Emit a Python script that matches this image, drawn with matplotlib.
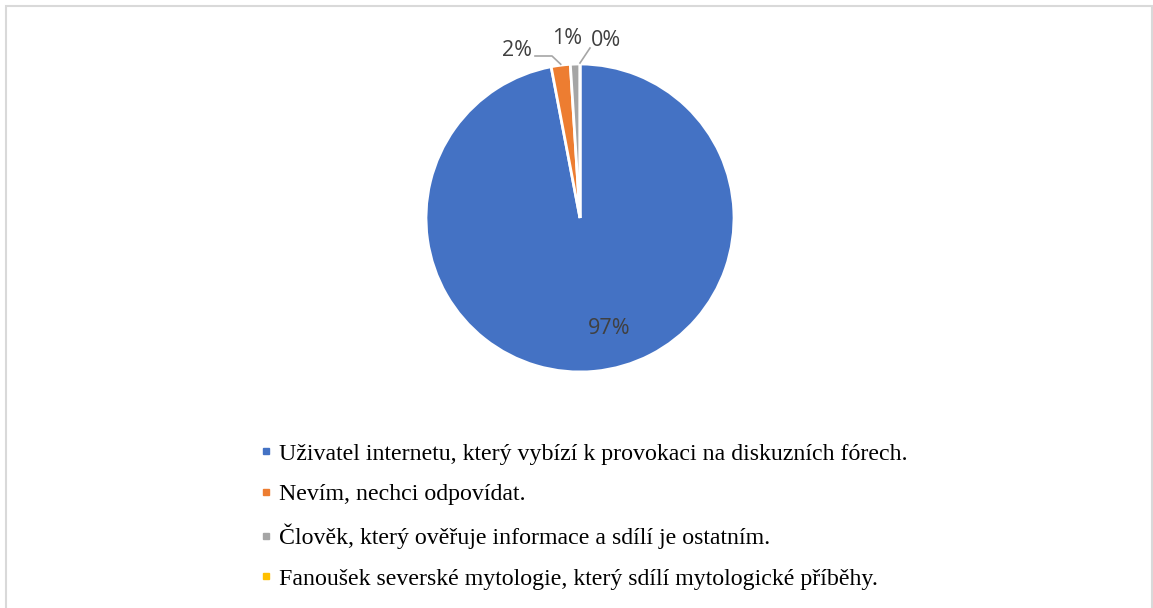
import matplotlib.pyplot as plt
from matplotlib.patches import Rectangle
from matplotlib.lines import Line2D
import numpy as np

categories = [
    "Uživatel internetu, který vybízí k provokaci na diskuzních fórech.",
    "Nevím, nechci odpovídat.",
    "Člověk, který ověřuje informace a sdílí je ostatním.",
    "Fanoušek severské mytologie, který sdílí mytologické příběhy.",
]
shares = [97, 2, 1, 0]
pct_labels = ["97%", "2%", "1%", "0%"]
colors = ["#4472C4", "#ED7D31", "#A5A5A5", "#FFC000"]

W, H = 1153, 608
fig = plt.figure(figsize=(W / 100, H / 100), dpi=100)
ax = fig.add_axes([0, 0, 1, 1])

# outer chart border
fig.patches.append(Rectangle((6 / W, -0.01), (W - 7) / W, (H - 6) / H + 0.01,
                             transform=fig.transFigure, fill=False,
                             edgecolor="#D9D9D9", lw=1.5))

cx, cy, r = 580, H - 218, 154
wedges, _ = ax.pie(shares, colors=colors, startangle=90, counterclock=False,
                   center=(cx, cy), radius=r, frame=True,
                   wedgeprops=dict(edgecolor="white", linewidth=2))
ax.set_xlim(0, W)
ax.set_ylim(0, H)
ax.set_aspect("equal")
ax.axis("off")

# label placement (pixels from top-left) and leader line start points
label_pos = [(609, 328), (517, 50), (567, 39), (606, 41)]
leader_from = [None, [(535, 56), (552, 56)], None, [(590, 48)]]

tcol = "#404040"
for w, lab, pos, lf in zip(wedges, pct_labels, label_pos, leader_from):
    ax.text(pos[0], H - pos[1], lab, ha="center", va="center",
            fontsize=15.5, color=tcol, family=["Open Sans", "DejaVu Sans"])
    if lf is not None:
        mid = np.deg2rad((w.theta1 + w.theta2) / 2)
        end = (cx + r * np.cos(mid), cy + r * np.sin(mid) + 1)
        xs = [p[0] for p in lf] + [end[0]]
        ys = [H - p[1] for p in lf] + [end[1]]
        ax.plot(xs, ys, color="#A6A6A6", lw=1.2)

handles = [Line2D([], [], marker="s", linestyle="", color=c, markersize=5)
           for c in colors]
leg = ax.legend(handles, categories, loc="upper left",
                bbox_to_anchor=(260 / W, 1 - 443 / H), frameon=False,
                prop={"family": "Liberation Serif", "size": 17.2},
                handlelength=0.5, handletextpad=0.3,
                labelspacing=0.78, borderpad=0, borderaxespad=0)

fig.savefig("out.png", dpi=100)
